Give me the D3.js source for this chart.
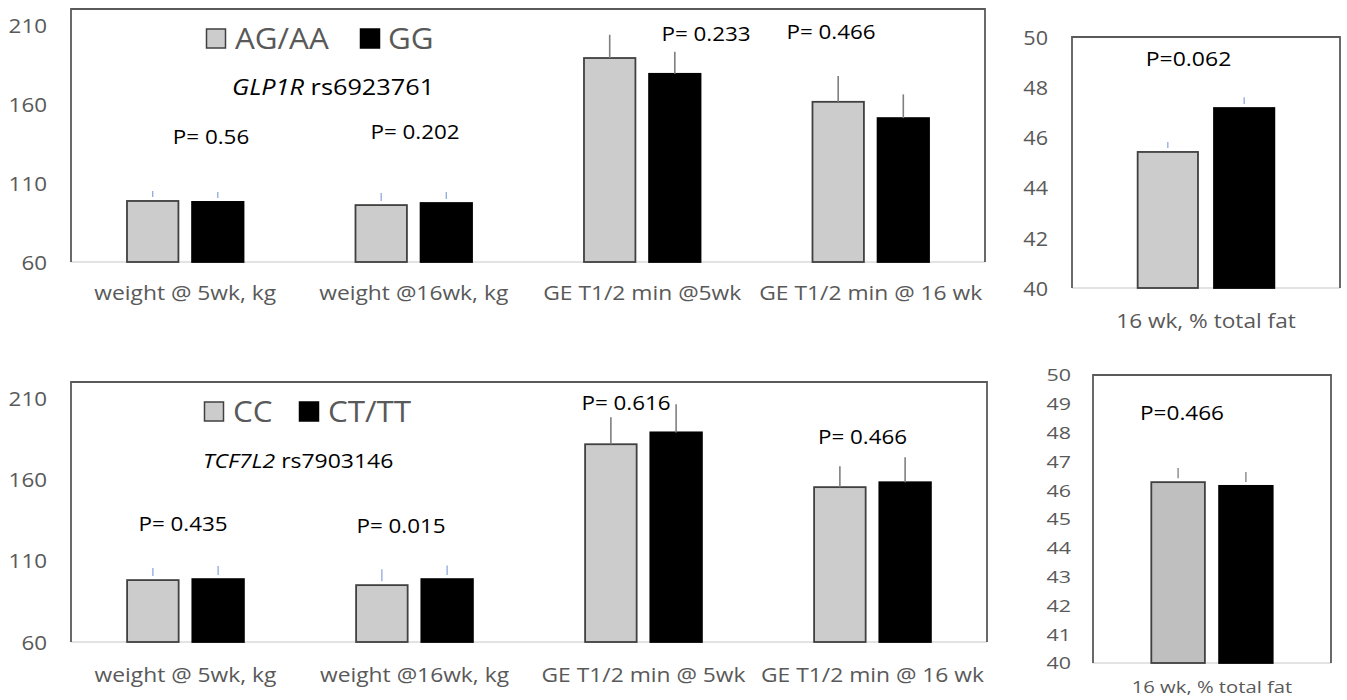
<!DOCTYPE html>
<html><head><meta charset="utf-8">
<script src="https://cdn.jsdelivr.net/npm/d3@7"></script>
<style>
body{margin:0;background:#fff;}
svg{display:block;font-family:"Open Sans",sans-serif;}
</style></head>
<body><svg id="c" width="1347" height="700"></svg>
<script>
// ---------- DATA ----------
const catsTop = ["weight @ 5wk, kg", "weight @16wk, kg", "GE T1/2 min @5wk", "GE T1/2 min @ 16 wk"];
const catsBottom = ["weight @ 5wk, kg", "weight @16wk, kg", "GE T1/2 min @ 5wk", "GE T1/2 min @ 16 wk"];
const fatCat = ["16 wk, % total fat"];

const glpSeries = ["AG/AA", "GG"];
const glpAGAA = [98.6, 96.0, 189.0, 161.3];
const glpGG = [98.0, 97.3, 179.0, 151.0];
const glpAGAAErr = [6.3, 7.7, 14.7, 16.4];
const glpGGErr = [6.3, 7.0, 14.0, 15.0];
const glpP = ["P= 0.56", "P= 0.202", "P= 0.233", "P= 0.466"];

const glpFatAGAA = [45.42];
const glpFatGG = [47.17];
const glpFatAGAAErr = [0.4];
const glpFatGGErr = [0.43];
const glpFatP = ["P=0.062"];

const tcfSeries = ["CC", "CT/TT"];
const tcfCC = [98.1, 95.0, 181.7, 155.3];
const tcfCTTT = [98.7, 98.7, 189.0, 158.3];
const tcfCCErr = [7.4, 9.7, 16.6, 12.9];
const tcfCTTTErr = [8.0, 8.4, 17.3, 15.4];
const tcfP = ["P= 0.435", "P= 0.015", "P= 0.616", "P= 0.466"];

const tcfFatCC = [46.28];
const tcfFatCTTT = [46.15];
const tcfFatCCErr = [0.49];
const tcfFatCTTTErr = [0.48];
const tcfFatP = ["P=0.466"];

const ticksMain = [60, 110, 160, 210];
const ticksFatTop = [40, 42, 44, 46, 48, 50];
const ticksFatBottom = [40, 41, 42, 43, 44, 45, 46, 47, 48, 49, 50];

// error style per category: "tick" = short detached tick, "line" = line from bar top
const errStyleMain = ["tick", "tick", "line", "line"];

// ---------- DRAW ----------
const svg = d3.select("#c");
const GRAY_TEXT = "#595959";

function txt(parent, x, y, str, size, anchor, fill, sx) {
  return parent.append("text")
    .attr("transform", `translate(${x},${y}) scale(${sx},1)`)
    .attr("text-anchor", anchor).attr("fill", fill)
    .style("font-size", size + "px").text(str);
}

function panel(cfg) {
  const g = svg.append("g");
  const x = d3.scaleBand().domain(cfg.cats).range([cfg.x0, cfg.x1]);
  const bw = x.bandwidth();
  const xs = d3.scaleBand().domain([0, 1]).range([bw * 0.245, bw * 0.755]).paddingInner(0.21);
  const y = d3.scaleLinear().domain(cfg.domain).range([cfg.yBot, cfg.yTop]);

  // y axis labels
  const ax = d3.axisLeft(y).tickValues(cfg.ticks).tickSize(0).tickPadding(0);
  const ag = g.append("g").attr("transform", `translate(${cfg.labelX},0)`).call(ax);
  ag.select(".domain").remove();
  ag.selectAll("text").attr("fill", GRAY_TEXT).style("font-size", cfg.tickFont + "px")
    .style("font-family", '"Open Sans",sans-serif').attr("dy", "0.36em")
    .attr("transform", `scale(${cfg.tickSx},1)`);

  // bottom axis line
  g.append("line").attr("x1", cfg.x0).attr("x2", cfg.x1).attr("y1", cfg.yBot).attr("y2", cfg.yBot)
    .attr("stroke", "#e3e3e3").attr("stroke-width", 2);

  // bars
  const series = [cfg.s0, cfg.s1];
  const errs = [cfg.e0, cfg.e1];
  const fills = [cfg.grayFill, "#000"];
  const strokes = ["#404040", "#000"];
  series.forEach((vals, si) => {
    g.selectAll(null).data(vals).enter().append("rect")
      .attr("x", (d, i) => x(cfg.cats[i]) + xs(si))
      .attr("width", xs.bandwidth())
      .attr("y", d => y(d))
      .attr("height", d => cfg.yBot - y(d))
      .attr("fill", fills[si]).attr("stroke", strokes[si]).attr("stroke-width", 1.8);
  });
  // error bars
  series.forEach((vals, si) => {
    g.selectAll(null).data(vals).enter().append("line")
      .attr("x1", (d, i) => x(cfg.cats[i]) + xs(si) + xs.bandwidth() / 2)
      .attr("x2", (d, i) => x(cfg.cats[i]) + xs(si) + xs.bandwidth() / 2)
      .attr("y1", (d, i) => y(d + errs[si][i]))
      .attr("y2", (d, i) => cfg.errStyle[i] === "tick" ? y(d) - 4 : y(d))
      .attr("stroke", (d, i) => cfg.errStyle[i] === "tick" ? cfg.tickColor : "#7f7f7f")
      .attr("stroke-width", (d, i) => cfg.errStyle[i] === "tick" ? 1.3 : 1.6);
  });

  // frame: left, top, right
  g.append("path")
    .attr("d", `M${cfg.x0},${cfg.yBot}V${cfg.yTop}H${cfg.x1}V${cfg.yBot}`)
    .attr("fill", "none").attr("stroke", "#5a5a5a").attr("stroke-width", 1.8);

  // x labels
  cfg.cats.forEach(c => txt(g, x(c) + bw / 2, cfg.xLabelY, c, cfg.xFont, "middle", GRAY_TEXT, cfg.xSx));

  // p-values
  cfg.p.forEach((p, i) => txt(g, cfg.pPos[i][0], cfg.pPos[i][1], p, cfg.pFont, "middle", "#000", cfg.pSx));
  return g;
}

function legend(items, squares, textX, baseline) {
  const g = svg.append("g");
  items.forEach((t, i) => {
    g.append("rect").attr("x", squares[i]).attr("y", baseline - 20).attr("width", 19).attr("height", 19)
      .attr("fill", i === 0 ? "#cccccc" : "#000").attr("stroke", i === 0 ? "#404040" : "#000").attr("stroke-width", 1.5);
    txt(g, textX[i], baseline, t, 28.5, "start", GRAY_TEXT, 1.1);
  });
}

function geneLabel(x, y, gene, snp, size, sx) {
  const t = svg.append("text").attr("transform", `translate(${x},${y}) scale(${sx},1)`)
    .style("font-size", size + "px").attr("fill", "#000");
  t.append("tspan").style("font-style", "italic").text(gene);
  t.append("tspan").text(" " + snp);
}

// Top-left
panel({cats: catsTop, x0: 71, x1: 985, yTop: 9, yBot: 262, domain: [60, 220], ticks: ticksMain,
  labelX: 47, tickFont: 20, tickSx: 1.12, s0: glpAGAA, s1: glpGG, e0: glpAGAAErr, e1: glpGGErr,
  grayFill: "#cccccc", errStyle: errStyleMain, tickColor: "#8eaadb",
  xLabelY: 300, xFont: 19.5, xSx: 1.17, p: glpP, pFont: 20, pSx: 1.12,
  pPos: [[211, 144], [415, 139], [706, 41], [831, 39]]});
legend(glpSeries, [206.5, 360.5], [235, 388], 49);
geneLabel(232, 95, "GLP1R", "rs6923761", 22, 1.15);

// Top-right
panel({cats: fatCat, x0: 1072, x1: 1340, yTop: 37, yBot: 288, domain: [40, 50], ticks: ticksFatTop,
  labelX: 1048, tickFont: 20, tickSx: 1.08, s0: glpFatAGAA, s1: glpFatGG, e0: glpFatAGAAErr, e1: glpFatGGErr,
  grayFill: "#cccccc", errStyle: ["tick"], tickColor: "#8eaadb",
  xLabelY: 328, xFont: 19.5, xSx: 1.16, p: glpFatP, pFont: 20, pSx: 1.15, pPos: [[1188.5, 66]]});

// Bottom-left
panel({cats: catsBottom, x0: 71, x1: 987, yTop: 382, yBot: 642, domain: [60, 220], ticks: ticksMain,
  labelX: 47, tickFont: 20, tickSx: 1.12, s0: tcfCC, s1: tcfCTTT, e0: tcfCCErr, e1: tcfCTTTErr,
  grayFill: "#cccccc", errStyle: errStyleMain, tickColor: "#8eaadb",
  xLabelY: 682, xFont: 19.5, xSx: 1.17, p: tcfP, pFont: 20, pSx: 1.12,
  pPos: [[183, 531], [401, 533], [626, 410], [862.5, 444]]});
legend(tcfSeries, [204.5, 299.5], [233, 328], 422);
geneLabel(203, 468, "TCF7L2", "rs7903146", 20.5, 1.12);

// Bottom-right
panel({cats: fatCat, x0: 1093, x1: 1331, yTop: 375, yBot: 663, domain: [40, 50], ticks: ticksFatBottom,
  labelX: 1071, tickFont: 16.5, tickSx: 1.3, s0: tcfFatCC, s1: tcfFatCTTT, e0: tcfFatCCErr, e1: tcfFatCTTTErr,
  grayFill: "#bfbfbf", errStyle: ["tick"], tickColor: "#7f7f7f",
  xLabelY: 693, xFont: 17, xSx: 1.19, p: tcfFatP, pFont: 20.5, pSx: 1.1, pPos: [[1182, 420]]});
</script></body></html>
